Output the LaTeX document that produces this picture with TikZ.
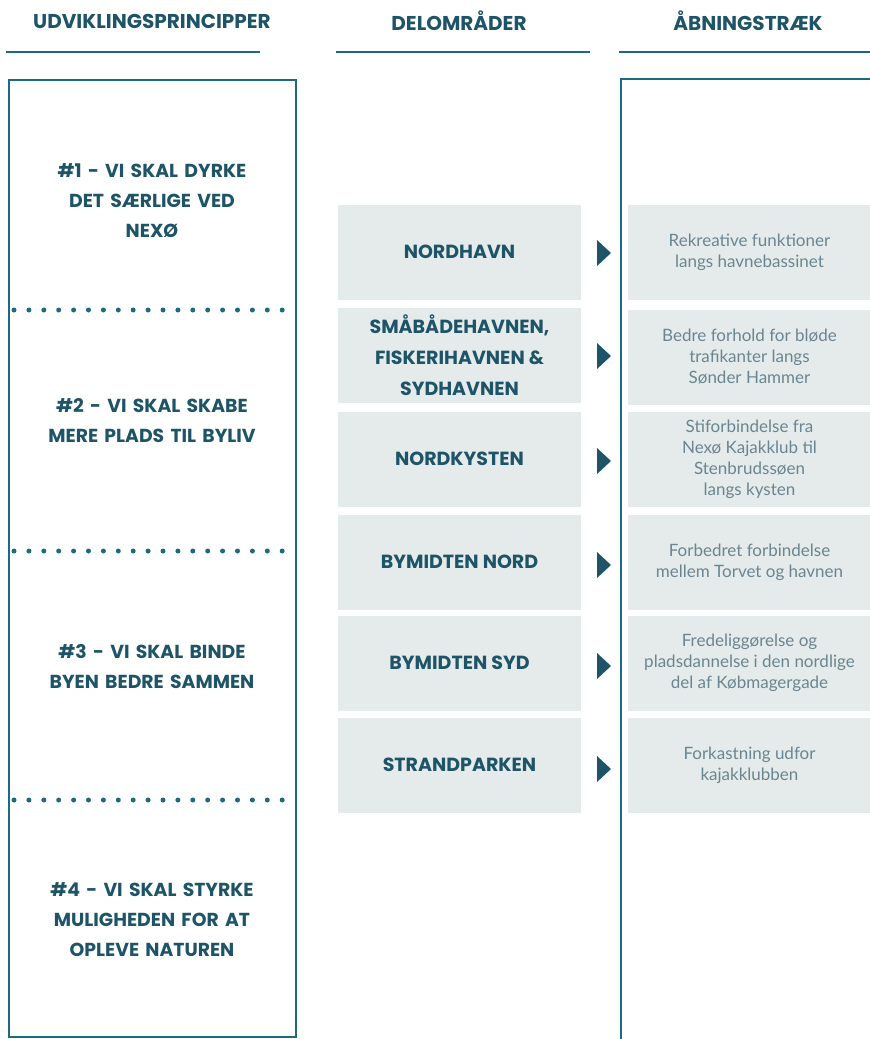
\documentclass[tikz,border=0pt]{standalone}
\usepackage{fontspec}
\setmainfont{Lato}
\newfontfamily\headfont{Poppins}[UprightFont=* Bold, BoldFont=* ExtraBold]
\definecolor{tealline}{HTML}{1D6A80}
\definecolor{tealtext}{HTML}{1E5468}
\definecolor{boxgray}{HTML}{E5EBEB}
\definecolor{graytext}{HTML}{6A8591}
\tikzset{
  x=1pt,y=-1pt,
  header/.style={font=\headfont\fontsize{20}{22}\selectfont, text=tealtext, anchor=center},
  hline/.style={draw=tealline, line width=1.6pt},
  frame/.style={draw=tealline, line width=2.6pt},
  dotline/.style={draw=tealline, line width=5pt, line cap=round, dash pattern=on 0pt off 14.9pt},
  principle/.style={font=\headfont\fontsize{18.8}{30}\selectfont, text=tealtext, align=center, text width=280pt},
  areabox/.style={fill=boxgray, minimum width=243pt, minimum height=95pt, inner sep=0pt, font=\headfont\fontsize{19}{31}\selectfont, text=tealtext, align=center},
  actbox/.style={fill=boxgray, minimum width=243pt, minimum height=95pt, inner sep=0pt, font=\fontsize{17}{21}\selectfont, text=graytext, align=center},
  tri/.style={fill=tealtext},
}
\begin{document}
\begin{tikzpicture}
\useasboundingbox (0,0) rectangle (870,1039);
% headers
\node[header] (h1) at (152,21) {UDVIKLINGSPRINCIPPER};
\node[header] (h2) at (459,21) {DELOMRÅDER};
\node[header] (h3) at (748,21) {ÅBNINGSTRÆK};
\coordinate (l1a) at (6,52); \coordinate (l1b) at (260,52);
\coordinate (l2a) at (336,52); \coordinate (l2b) at (590,52);
\coordinate (l3a) at (619,52); \coordinate (l3b) at (870,52);
\draw[hline] (l1a) -- (l1b);
\draw[hline] (l2a) -- (l2b);
\draw[hline] (l3a) -- (l3b);
% frames
\coordinate (f1a) at (9,80); \coordinate (f1b) at (296,1037);
\draw[frame] (f1a) rectangle (f1b);
\coordinate (f3a) at (872,79); \coordinate (f3b) at (621,79); \coordinate (f3c) at (621,1041);
\draw[frame] (f3a) -- (f3b) -- (f3c);
% dotted separators
\foreach \yy/\nm in {310/d1,551/d2,800/d3}{
  \coordinate (\nm a) at (14,\yy); \coordinate (\nm b) at (296,\yy);
  \draw[dotline] (\nm a) -- (\nm b);
}
% principles
\node[principle] (p1) at (152,201) {\#1 - VI SKAL DYRKE\\DET SÆRLIGE VED\\NEXØ};
\node[principle] (p2) at (152,421) {\#2 - VI SKAL SKABE\\MERE PLADS TIL BYLIV};
\node[principle] (p3) at (152,667) {\#3 - VI SKAL BINDE\\BYEN BEDRE SAMMEN};
\node[principle] (p4) at (152,920) {\#4 - VI SKAL STYRKE\\MULIGHEDEN FOR AT\\OPLEVE NATUREN};
% areas and actions
\node[areabox] (a1) at (459.5,252) {NORDHAVN};
\node[areabox] (a2) at (459.5,355) {SMÅBÅDEHAVNEN,\\FISKERIHAVNEN \&\\SYDHAVNEN};
\node[areabox] (a3) at (459.5,459) {NORDKYSTEN};
\node[areabox] (a4) at (459.5,562) {BYMIDTEN NORD};
\node[areabox] (a5) at (459.5,663) {BYMIDTEN SYD};
\node[areabox] (a6) at (459.5,765) {STRANDPARKEN};
\node[actbox] (b1) at (749.5,252) {Rekreative funktioner\\langs havnebassinet};
\node[actbox] (b2) at (749.5,357) {Bedre forhold for bløde\\trafikanter langs\\Sønder Hammer};
\node[actbox] (b3) at (749.5,459) {Stiforbindelse fra\\Nexø Kajakklub til\\Stenbrudssøen\\langs kysten};
\node[actbox] (b4) at (749.5,562) {Forbedret forbindelse\\mellem Torvet og havnen};
\node[actbox] (b5) at (749.5,663) {Fredeliggørelse og\\pladsdannelse i den nordlige\\del af Købmagergade};
\node[actbox] (b6) at (749.5,765) {Forkastning udfor\\kajakklubben};
% arrows
\foreach \nm/\yy in {t1/253,t2/356,t3/461,t4/565,t5/666,t6/769}{
  \coordinate (\nm) at (604,\yy);
  \fill[tri, shift={(\nm)}] (-7,-13) -- (7,0) -- (-7,13) -- cycle;
}
\end{tikzpicture}
\end{document}
